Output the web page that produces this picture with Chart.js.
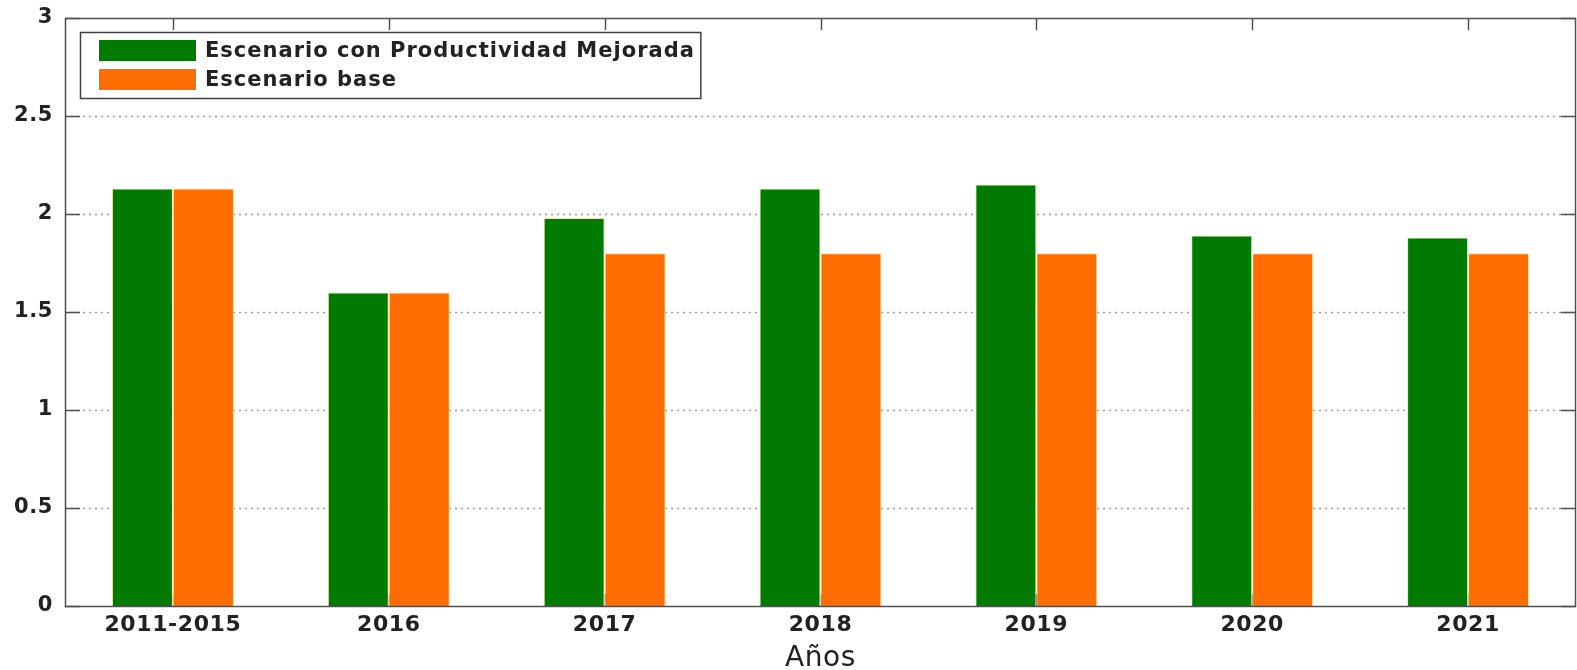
<!DOCTYPE html>
<html>
<head>
<meta charset="utf-8">
<script src="https://cdn.jsdelivr.net/npm/chart.js@4"></script>
<style>
  html, body { margin: 0; padding: 0; background: #fff; }
  #wrap { width: 1577px; height: 670px; position: relative; }
</style>
</head>
<body>
<div id="wrap"><canvas id="c"></canvas></div>
<script>
const categories = ['2011-2015', '2016', '2017', '2018', '2019', '2020', '2021'];
const seriesNames = ['Escenario con Productividad Mejorada', 'Escenario base'];
const mejorada = [2.13, 1.60, 1.98, 2.13, 2.15, 1.89, 1.88];
const base = [2.13, 1.60, 1.80, 1.80, 1.80, 1.80, 1.80];
const yTicks = [0, 0.5, 1, 1.5, 2, 2.5, 3];
const yTickLabels = ['0', '0.5', '1', '1.5', '2', '2.5', '3'];
const xTitle = 'Años';

const GREEN = 'rgb(0,122,0)';
const ORANGE = 'rgb(255,108,0)';
const AXIS = '#505050';
const TEXT = '#222';

Chart.defaults.font.family = "'DejaVu Sans', sans-serif";

const matlabAxes = {
  id: 'matlabAxes',
  beforeDraw(chart) {
    chart.ctx.letterSpacing = '0.6px';
  },
  beforeDatasetsDraw(chart) {
    const { ctx, chartArea: a, scales: { x, y } } = chart;
    ctx.save();
    ctx.letterSpacing = '0px';
    ctx.strokeStyle = '#9a9a9a';
    ctx.lineWidth = 1.3;
    ctx.setLineDash([2, 4]);
    y.ticks.forEach(t => {
      if (t.value <= y.min || t.value >= y.max) return;
      const py = Math.round(y.getPixelForValue(t.value)) + 0.5;
      ctx.beginPath(); ctx.moveTo(a.left, py); ctx.lineTo(a.right, py); ctx.stroke();
    });
    ctx.setLineDash([]);
    ctx.strokeStyle = AXIS;
    ctx.lineWidth = 1.5;
    categories.forEach((c, i) => {
      const px = Math.round(x.getPixelForValue(i)) + 0.5;
      ctx.beginPath(); ctx.moveTo(px, a.bottom); ctx.lineTo(px, a.bottom - 12); ctx.stroke();
    });
    ctx.restore();
  },
  afterDatasetsDraw(chart) {
    const { ctx, chartArea: a, scales: { x, y } } = chart;
    ctx.save();
    ctx.letterSpacing = '0px';
    ctx.strokeStyle = AXIS;
    ctx.lineWidth = 1.5;
    categories.forEach((c, i) => {
      const px = Math.round(x.getPixelForValue(i)) + 0.5;
      ctx.beginPath(); ctx.moveTo(px, a.top); ctx.lineTo(px, a.top + 12); ctx.stroke();
    });
    y.ticks.forEach(t => {
      const py = Math.round(y.getPixelForValue(t.value)) + 0.5;
      ctx.beginPath(); ctx.moveTo(a.left, py); ctx.lineTo(a.left + 15, py); ctx.stroke();
      ctx.beginPath(); ctx.moveTo(a.right, py); ctx.lineTo(a.right - 15, py); ctx.stroke();
    });
    ctx.strokeRect(a.left + 0.5, a.top + 0.5, a.right - a.left - 1, a.bottom - a.top);

    // legend
    ctx.font = "bold 21px 'DejaVu Sans'";
    ctx.letterSpacing = '1px';
    const tx = 205;
    let maxW = 0;
    chart.data.datasets.forEach(ds => { maxW = Math.max(maxW, ctx.measureText(ds.label).width); });
    const lx = 80.5, ly = 32.5;
    const lw = Math.max(620, tx + maxW + 6 - lx);
    const lh = 66;
    ctx.fillStyle = '#fff';
    ctx.fillRect(lx, ly, lw, lh);
    ctx.strokeStyle = '#404040';
    ctx.lineWidth = 1.5;
    ctx.strokeRect(lx, ly, lw, lh);
    const rowsY = [50.5, 79.5];
    chart.data.datasets.forEach((ds, i) => {
      ctx.fillStyle = ds.backgroundColor;
      ctx.fillRect(99, rowsY[i] - 10.5, 97, 21);
      ctx.fillStyle = TEXT;
      ctx.textAlign = 'left';
      ctx.textBaseline = 'middle';
      ctx.fillText(ds.label, tx, rowsY[i] + 1);
    });
    ctx.restore();
  }
};

new Chart(document.getElementById('c'), {
  type: 'bar',
  data: {
    labels: categories,
    datasets: [
      { label: seriesNames[0], data: mejorada, backgroundColor: GREEN, borderColor: 'rgba(225,232,165,0.9)', borderWidth: 1, categoryPercentage: 0.565, barPercentage: 1.0 },
      { label: seriesNames[1], data: base, backgroundColor: ORANGE, borderColor: 'rgba(240,225,160,0.9)', borderWidth: 1, categoryPercentage: 0.565, barPercentage: 1.0 }
    ]
  },
  options: {
    responsive: true,
    maintainAspectRatio: false,
    animation: false,
    devicePixelRatio: 1,
    layout: { padding: { top: 18, right: 1, left: 0, bottom: 0 } },
    plugins: { legend: { display: false }, tooltip: { enabled: false }, title: { display: false } },
    scales: {
      x: {
        grid: { display: false, drawTicks: false },
        border: { display: false },
        ticks: { color: TEXT, font: { size: 22, weight: 'bold' }, padding: 6, maxRotation: 0, autoSkip: false },
        title: { display: true, text: xTitle, color: TEXT, font: { size: 28, weight: 'normal' }, padding: { top: 0, bottom: -6 } },
        afterFit(s) { s.height = 64; s.paddingLeft = 0; s.paddingRight = 0; }
      },
      y: {
        min: 0, max: 3,
        grid: { display: false, drawTicks: false },
        border: { display: false },
        afterBuildTicks(s) { s.ticks = yTicks.map(v => ({ value: v })); },
        ticks: {
          color: TEXT, font: { size: 21, weight: 'bold' }, padding: 12,
          callback: (v) => { const i = yTicks.indexOf(v); return i >= 0 ? yTickLabels[i] : ''; }
        },
        afterFit(s) { s.width = 65; s.paddingTop = 0; s.paddingBottom = 0; }
      }
    }
  },
  plugins: [matlabAxes]
});
</script>
</body>
</html>
